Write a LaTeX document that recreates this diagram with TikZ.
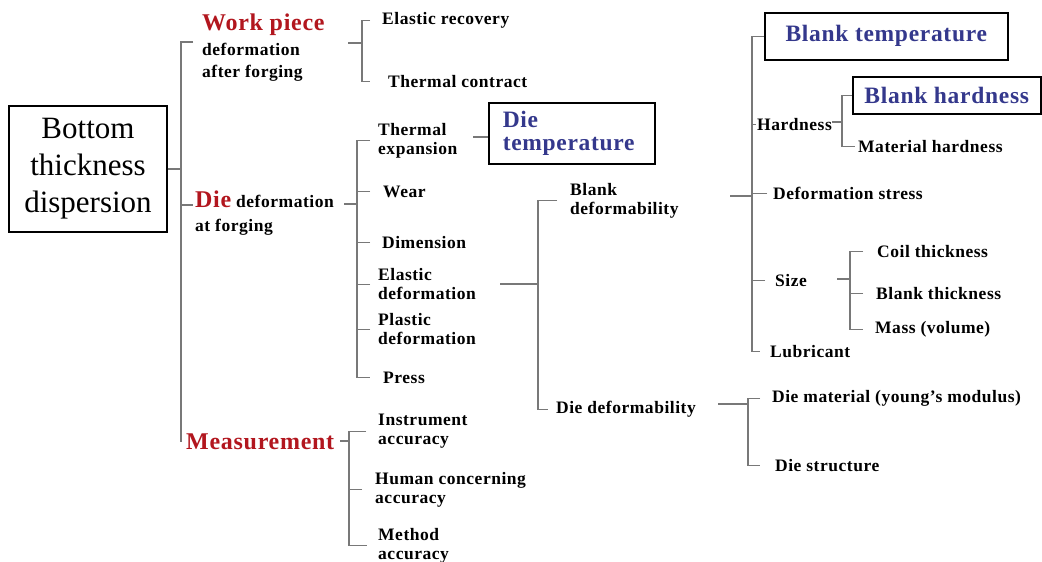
\documentclass[tikz,border=0pt]{standalone}
\usepackage{fontspec}
\setmainfont{Liberation Serif}
\newfontfamily\lbfam[LetterSpace=3]{Liberation Serif}
\definecolor{redT}{RGB}{178,22,30}
\definecolor{blueT}{RGB}{52,56,140}
\definecolor{lineG}{RGB}{120,120,120}
\newcommand\lbfont{\lbfam\bfseries\fontsize{17.5}{19}\selectfont}
\newcommand\redfont{\lbfam\bfseries\fontsize{24}{26}\selectfont\color{redT}}
\newcommand\bluefont{\lbfam\bfseries\fontsize{23.5}{23}\selectfont\color{blueT}}
\newcommand\rootfont{\fontsize{31}{37}\selectfont}
\begin{document}
\begin{tikzpicture}[x=1pt,y=-1pt,
  lbl/.style={font=\lbfont, anchor=west, align=left, inner xsep=12pt, inner ysep=1pt, yshift=-1.5pt},
  ln/.style={draw=lineG, line width=1.1pt},
  bbox/.style={draw=black, line width=1.5pt, font=\bluefont, inner sep=0pt},
  rootbox/.style={draw=black, line width=1.4pt, minimum width=158pt, minimum height=126pt, align=center, font=\rootfont, inner sep=0pt}]
\useasboundingbox (0,0) rectangle (1042,562);
\fill[white] (0,0) rectangle (1042,562);

% root
\node[rootbox] (root) at (88,169) {Bottom\\thickness\\dispersion};

% level 1
\node[lbl, inner xsep=9pt] (wpt) at (193,23) {\redfont Work piece};
\node[lbl, inner xsep=9pt] (wpd) at (193,61) {deformation\\[3pt]after forging};
\node[lbl, inner xsep=2pt] (die) at (193,212) {{\redfont Die} deformation\\[5pt]at forging};
\node[lbl, inner xsep=5pt] (meas) at (181,440) {\redfont Measurement};

\coordinate (b1) at (181,169);
\coordinate (b1t) at (181,42);
\coordinate (b1d) at (181,205);
\coordinate (b1b) at (181,440);
\draw[ln] (root.east) -- (b1);
\draw[ln] (193,42) -- (b1t) -- (b1b |- meas.west) -- (meas.west);
\draw[ln] (b1d) -- (193,205);

% work piece children
\node[lbl] (er) at (370,19) {Elastic recovery};
\node[lbl, inner xsep=18pt] (tc) at (370,80) {Thermal contract};
\coordinate (w0) at (348,43);
\coordinate (w1) at (362,43);
\draw[ln] (w0) -- (w1);
\draw[ln] (er.west) -| (w1) |- (tc.west);

% die children
\node[lbl, inner xsep=8pt] (te) at (370,139) {Thermal\\expansion};
\node[lbl, inner xsep=13pt] (wear) at (370,190) {Wear};
\node[lbl] (dim) at (370,241) {Dimension};
\node[lbl, inner xsep=8pt] (ed) at (370,283) {Elastic\\deformation};
\node[lbl, inner xsep=8pt] (pd) at (370,328) {Plastic\\deformation};
\node[lbl, inner xsep=13pt] (press) at (370,376) {Press};
\coordinate (d0) at (344,204);
\coordinate (d1) at (357,204);
\draw[ln] (d0) -- (d1);
\draw[ln] (te.west) -| (d1) |- (press.west);
\foreach \n in {wear,dim,ed,pd} \draw[ln] (\n.west) -- (\n.west -| d1);

% die temperature
\node[bbox, anchor=north west, text width=138pt, inner xsep=14pt, minimum height=61pt, align=left] (dt) at (488,102) {Die\\temperature};
\coordinate (t1) at (473,137);
\draw[ln] (t1) -- (t1 -| dt.west);

% deformability
\coordinate (e0) at (500,284);
\coordinate (e1) at (538,284);
\node[lbl, inner xsep=13pt] (bd) at (557,199) {Blank\\deformability};
\node[lbl, inner xsep=8pt] (dd) at (548,408) {Die deformability};
\draw[ln] (e0) -- (e1);
\draw[ln] (bd.west) -| (e1) |- (dd.west);

% blank deformability children
\coordinate (r0) at (730,196);
\coordinate (r1) at (752,196);
\node[bbox, anchor=north west, minimum width=243pt, minimum height=47pt] (bt) at (764,12) {Blank temperature};
\node[lbl, inner xsep=5pt] (hard) at (752,123) {Hardness};
\node[lbl, inner xsep=6pt] (ds) at (767,192) {Deformation stress};
\node[lbl, inner xsep=10pt] (size) at (765,279) {Size};
\node[lbl, inner xsep=10pt] (lub) at (760,350) {Lubricant};
\draw[ln] (r0) -- (r1);
\draw[ln] (bt.west) -| (r1) |- (lub.west);
\draw[ln] (ds.west) -- (ds.west -| r1);
\draw[ln] (size.west) -- (size.west -| r1);
\draw[ln] (hard.west) -- ([xshift=4pt]hard.west);

% hardness children
\coordinate (h0) at (832,122);
\coordinate (h1) at (842,122);
\node[bbox, anchor=north west, minimum width=188pt, minimum height=37pt] (bh) at (852,76) {Blank hardness};
\node[lbl, inner xsep=3pt] (mh) at (855,145) {Material hardness};
\draw[ln] (h0) -- (h1);
\draw[ln] (bh.west) -| (h1) |- (mh.west);

% size children
\coordinate (s0) at (837,279);
\coordinate (s1) at (850,279);
\node[lbl, inner xsep=14pt] (ct) at (863,250) {Coil thickness};
\node[lbl, inner xsep=13pt] (bkt) at (863,292) {Blank thickness};
\node[lbl, inner xsep=12pt] (mv) at (863,328) {Mass (volume)};
\draw[ln] (s0) -- (s1);
\draw[ln] (ct.west) -| (s1) |- (mv.west);
\draw[ln] (bkt.west) -- (bkt.west -| s1);

% die deformability children
\coordinate (q0) at (718,404);
\coordinate (q1) at (748,404);
\node[lbl] (dm) at (760,397) {Die material (young’s modulus)};
\node[lbl, inner xsep=15pt] (dst) at (760,464) {Die structure};
\draw[ln] (q0) -- (q1);
\draw[ln] (dm.west) -| (q1) |- (dst.west);

% measurement children
\coordinate (m0) at (340,441);
\coordinate (m1) at (349,441);
\node[lbl] (ia) at (366,430) {Instrument\\accuracy};
\node[lbl, inner xsep=13pt] (hca) at (362,488) {Human concerning\\accuracy};
\node[lbl, inner xsep=11pt] (ma) at (367,544) {Method\\accuracy};
\draw[ln] (m0) -- (m1);
\draw[ln] (ia.west) -| (m1) |- (ma.west);
\draw[ln] (hca.west) -- (hca.west -| m1);
\end{tikzpicture}
\end{document}
